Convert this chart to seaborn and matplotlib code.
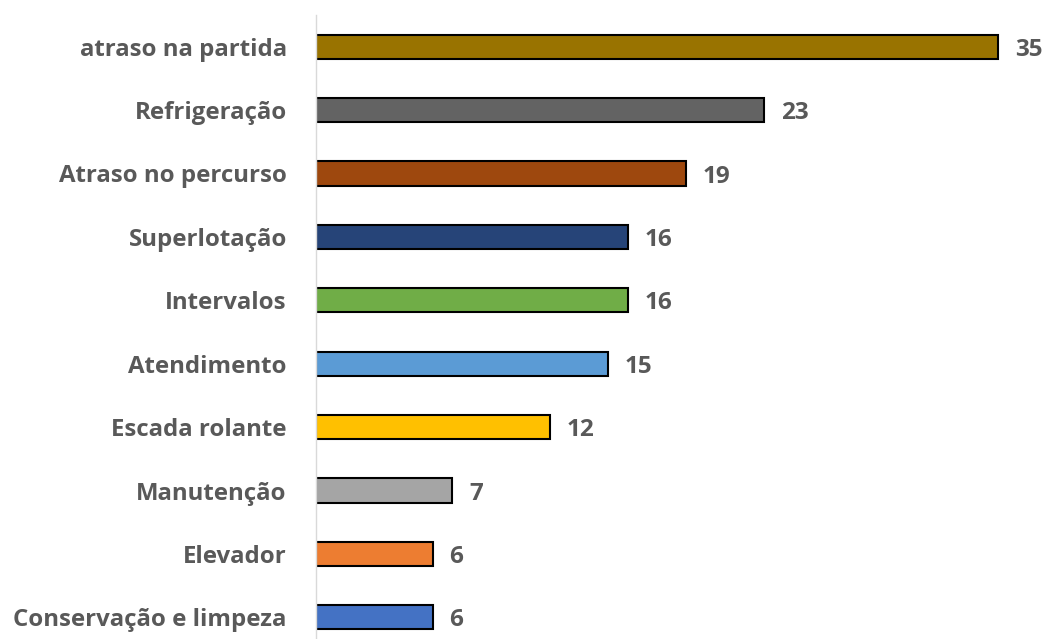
import matplotlib
matplotlib.use('Agg')
import matplotlib.pyplot as plt
import seaborn as sns
import pandas as pd

# ─── Données ─────────────────────────────────────────────────────────────────
categorias = ['atraso na partida', 'Refrigeração', 'Atraso no percurso',
              'Superlotação', 'Intervalos', 'Atendimento', 'Escada rolante',
              'Manutenção', 'Elevador', 'Conservação e limpeza']
valores = [35, 23, 19, 16, 16, 15, 12, 7, 6, 6]
cores = ['#997300', '#636363', '#9E480E', '#264478', '#70AD47',
         '#5B9BD5', '#FFC000', '#A5A5A5', '#ED7D31', '#4472C4']

df = pd.DataFrame({'categoria': categorias, 'valor': valores})

sns.set_style('white')
plt.rcParams['font.family'] = ['Open Sans', 'DejaVu Sans']
TXT = '#595959'

fig = plt.figure(figsize=(10.47, 6.39), dpi=100)
ax = fig.add_axes([316 / 1047, -10 / 639, 731 / 1047, 634 / 639])

sns.barplot(data=df, x='valor', y='categoria', hue='categoria',
            palette=cores, saturation=1, legend=False, width=0.38,
            edgecolor='black', linewidth=1.5, ax=ax)

for i, v in enumerate(valores):
    ax.text(v + 0.85, i + 0.05, str(v), ha='left', va='center',
            fontsize=17.5, fontweight='bold', color=TXT)

ax.set_xlim(0, 37.5)
ax.set_ylim(9.5, -0.5)
ax.set_xlabel('')
ax.set_ylabel('')
ax.set_xticks([])
ax.tick_params(axis='y', length=0, pad=21, labelsize=17.3, labelcolor=TXT)
for lbl in ax.get_yticklabels():
    lbl.set_fontweight('bold')

for s in ['top', 'right', 'bottom']:
    ax.spines[s].set_visible(False)
ax.spines['left'].set_color('#D9D9D9')
ax.spines['left'].set_linewidth(1.0)

fig.savefig('out.png', dpi=100)
plt.close()
